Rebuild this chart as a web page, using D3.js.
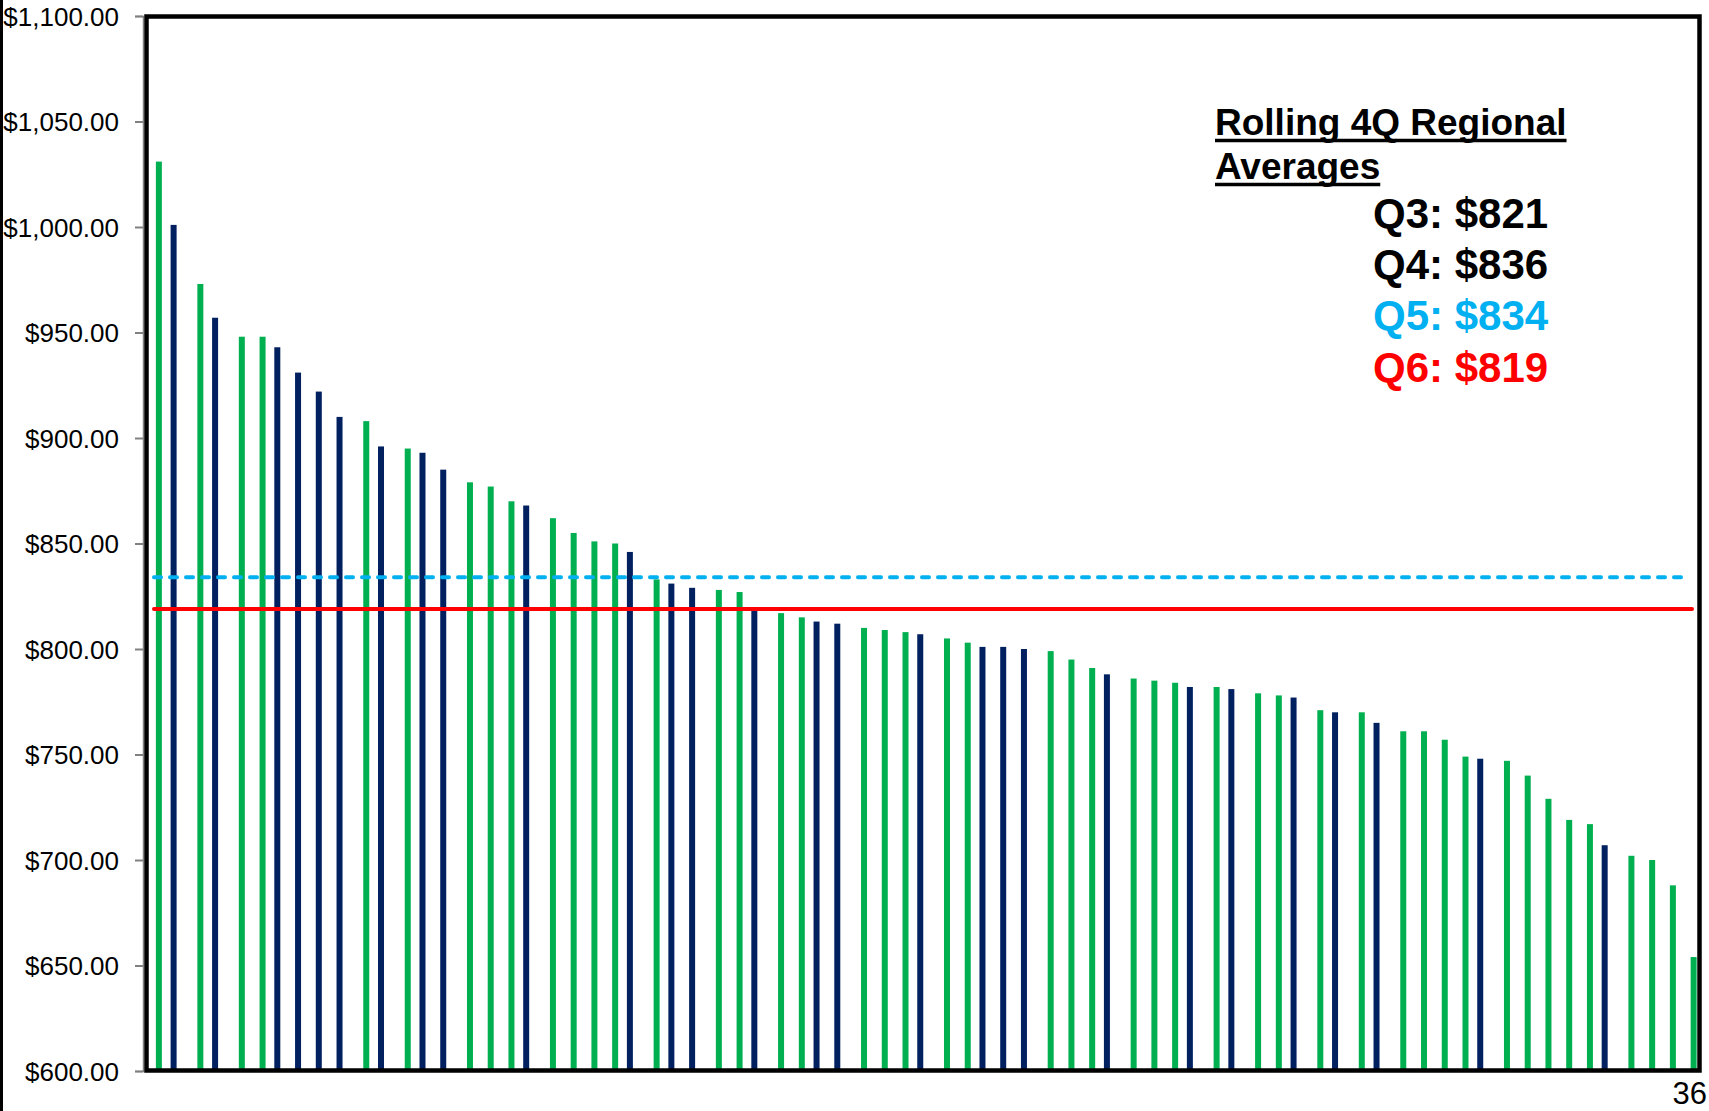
<!DOCTYPE html>
<html>
<head>
<meta charset="utf-8">
<script src="https://cdn.jsdelivr.net/npm/d3@7"></script>
<style>
  html, body { margin: 0; padding: 0; background: #fff; }
  svg { display: block; font-family: "Liberation Sans", Arial, sans-serif; }
</style>
</head>
<body>
<svg id="chart" width="1709" height="1111"></svg>
<script>
// ---- data ----
const categories = ["1","2","3","4","5","6","7","8","9","10","11","12","13","14","15","16","17","18","19","20",
  "21","22","23","24","25","26","27","28","29","30","31","32","33","34","35","36","37","38","39","40",
  "41","42","43","44","45","46","47","48","49","50","51","52","53","54","55","56","57","58","59","60",
  "61","62","63","64","65","66","67","68","69","70","71","72","73","74","75"];

const seriesNames = ["navy", "green"];

const greenValues = [1031,null,973,null,948,948,null,null,null,null,908,null,895,null,null,879,877,870,null,862,855,851,850,null,833,null,null,828,827,null,817,815,null,null,810,809,808,null,805,803,null,null,null,799,795,791,null,786,785,784,null,782,null,779,778,null,771,null,770,null,761,761,757,749,null,747,740,729,719,717,null,702,700,688,654];

const navyValues = [null,1001,null,957,null,null,943,931,922,910,null,896,null,893,885,null,null,null,868,null,null,null,null,846,null,831,829,null,null,818,null,null,813,812,null,null,null,807,null,null,801,801,800,null,null,null,788,null,null,null,782,null,781,null,null,777,null,770,null,765,null,null,null,null,748,null,null,null,null,null,707,null,null,null,null];

const yTicks = [600, 650, 700, 750, 800, 850, 900, 950, 1000, 1050, 1100];

const q5Average = 834;
const q6Average = 819;

const legendTitle = ["Rolling 4Q Regional", "Averages"];
const legendLines = [
  { text: "Q3: $821", color: "#000000" },
  { text: "Q4: $836", color: "#000000" },
  { text: "Q5: $834", color: "#00B0F0" },
  { text: "Q6: $819", color: "#FF0000" }
];
const pageNumber = "36";

// ---- chart ----
const colors = { green: "#00B050", navy: "#002060" };
const svg = d3.select("#chart");

const plot = { left: 145.5, right: 1701, top: 16, bottom: 1071 };

const x0 = d3.scaleBand().domain(categories).range([plot.left, plot.right]).paddingInner(0).paddingOuter(0);
const x1 = d3.scaleBand().domain(seriesNames).range([x0.bandwidth() / 2 - 6, x0.bandwidth() / 2 + 6]);
const y = d3.scaleLinear().domain([600, 1100]).range([plot.bottom, plot.top]);

// page-edge line
svg.append("line").attr("x1", 1.5).attr("x2", 1.5).attr("y1", 0).attr("y2", 1111)
  .attr("stroke", "#000").attr("stroke-width", 3);

// y axis
const yAxis = d3.axisLeft(y).tickValues(yTicks).tickSize(8).tickPadding(16)
  .tickFormat(d3.format("$,.2f"));
const gy = svg.append("g").attr("transform", `translate(${plot.left - 2.5},0)`).call(yAxis);
gy.select(".domain").attr("stroke", "#808080").attr("stroke-width", 1.5);
gy.selectAll(".tick line").attr("stroke", "#808080").attr("stroke-width", 2);
gy.selectAll(".tick text").attr("font-size", 26).attr("fill", "#000")
  .attr("font-family", "'Liberation Sans', Arial, sans-serif").attr("dy", "0.36em");

// bars
const rows = categories.map((c, i) => ({ cat: c, green: greenValues[i], navy: navyValues[i] }));
const barData = [];
rows.forEach(r => {
  seriesNames.forEach(s => { if (r[s] != null) barData.push({ cat: r.cat, series: s, value: r[s] }); });
});
svg.append("g").selectAll("rect").data(barData).join("rect")
  .attr("x", d => x0(d.cat) + x1(d.series))
  .attr("width", x1.bandwidth())
  .attr("y", d => y(d.value))
  .attr("height", d => y(600) - y(d.value))
  .attr("fill", d => colors[d.series]);

// average lines
svg.append("line")
  .attr("x1", 154).attr("x2", 1685)
  .attr("y1", y(q5Average)).attr("y2", y(q5Average))
  .attr("stroke", "#00B0F0").attr("stroke-width", 4)
  .attr("stroke-dasharray", "7 9").attr("stroke-linecap", "round");
svg.append("line")
  .attr("x1", 154).attr("x2", 1692)
  .attr("y1", y(q6Average)).attr("y2", y(q6Average))
  .attr("stroke", "#FF0000").attr("stroke-width", 4).attr("stroke-linecap", "round");

// frame
svg.append("rect")
  .attr("x", plot.left + 1).attr("y", plot.top + 0.5)
  .attr("width", plot.right - plot.left - 2.5).attr("height", plot.bottom - plot.top - 1)
  .attr("fill", "none").attr("stroke", "#000").attr("stroke-width", 4.5);

// legend
const titleBaselines = [135, 179];
legendTitle.forEach((t, i) => {
  const txt = svg.append("text").attr("x", 1215).attr("y", titleBaselines[i])
    .attr("font-size", 37).attr("font-weight", "bold").attr("fill", "#000").text(t);
  const w = txt.node().getComputedTextLength();
  svg.append("line").attr("x1", 1215).attr("x2", 1215 + w)
    .attr("y1", titleBaselines[i] + 5.5).attr("y2", titleBaselines[i] + 5.5)
    .attr("stroke", "#000").attr("stroke-width", 3.5);
});
const lineBaselines = [228, 279, 330, 382];
legendLines.forEach((d, i) => {
  svg.append("text").attr("x", 1373).attr("y", lineBaselines[i])
    .attr("font-size", 42).attr("font-weight", "bold").attr("fill", d.color).text(d.text);
});

// page number
svg.append("text").attr("x", 1707).attr("y", 1104).attr("text-anchor", "end")
  .attr("font-size", 31).attr("fill", "#000").text(pageNumber);
</script>
</body>
</html>
